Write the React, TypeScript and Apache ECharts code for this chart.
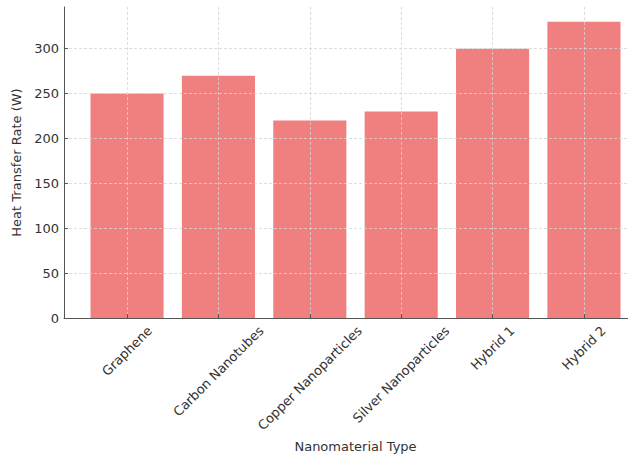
import React, { useEffect, useRef } from "react";
import * as echarts from "echarts";

const categories = [
  "Graphene",
  "Carbon Nanotubes",
  "Copper Nanoparticles",
  "Silver Nanoparticles",
  "Hybrid 1",
  "Hybrid 2",
];
const heatTransfer = [250, 270, 220, 230, 300, 330];
const yTicks = [0, 50, 100, 150, 200, 250, 300];
const xPositions = [0, 1, 2, 3, 4, 5];
const X_MIN = -0.69;
const X_MAX = 5.69;

const FONT = '"DejaVu Sans", sans-serif';
const FS = 13;
const TEXT = "#333333";
const GRID_COLOR = "#d4d4d4";

function measure(t: string): number {
  const ctx = document.createElement("canvas").getContext("2d");
  if (!ctx) return t.length * FS * 0.6;
  ctx.font = `${FS}px ${FONT}`;
  return ctx.measureText(t).width;
}

export default function App() {
  const ref = useRef<HTMLDivElement>(null);
  useEffect(() => {
    if (!ref.current) return;
    const chart = echarts.init(ref.current, null, { renderer: "svg" });
    const lh = FS * 1.17;
    const rich: Record<string, any> = {
      t: { fontFamily: FONT, fontSize: FS, color: TEXT, lineHeight: lh, height: lh },
    };
    categories.forEach((c, i) => {
      const w = 0.5 * (measure(c) + lh);
      rich["b" + i] = { height: w, lineHeight: w, width: 1 };
      rich["r" + i] = { width: w, height: lh, lineHeight: lh };
    });

    chart.setOption({
      animation: false,
      backgroundColor: "#ffffff",
      grid: { left: 64, top: 7, width: 583, height: 311, containLabel: false },
      xAxis: {
        type: "value",
        min: X_MIN,
        max: X_MAX,
        z: 10,
        name: "Nanomaterial Type",
        nameLocation: "middle",
        nameGap: 122,
        nameTextStyle: { fontFamily: FONT, fontSize: FS, color: TEXT },
        axisLine: { show: true, onZero: false, lineStyle: { color: "#555555", width: 1 } },
        axisTick: {
          show: true,
          inside: true,
          length: 4,
          customValues: xPositions,
          lineStyle: { color: "#555555" },
        },
        axisLabel: {
          customValues: [X_MIN, ...xPositions, X_MAX],
          hideOverlap: false,
          rotate: 45,
          align: "center",
          verticalAlign: "middle",
          margin: 5,
          formatter: (v: number) => {
            const i = Math.round(v);
            if (Math.abs(v - i) > 1e-6 || !categories[i]) return "";
            return `{b${i}|}\n{t|${categories[i]}}{r${i}|}`;
          },
          rich,
        },
        splitLine: {
          show: true,
          lineStyle: { color: GRID_COLOR, type: [3, 2], width: 0.8 },
        },
      },
      yAxis: {
        type: "value",
        min: 0,
        max: 346.5,
        z: 10,
        name: "Heat Transfer Rate (W)",
        nameLocation: "middle",
        nameGap: 29,
        nameTextStyle: { fontFamily: FONT, fontSize: FS, color: TEXT },
        axisLine: { show: true, onZero: false, lineStyle: { color: "#555555", width: 1 } },
        axisTick: {
          show: true,
          inside: true,
          length: 4,
          customValues: yTicks,
          lineStyle: { color: "#555555" },
        },
        axisLabel: {
          customValues: yTicks,
          showMinLabel: true,
          showMaxLabel: true,
          hideOverlap: false,
          margin: 5,
          fontFamily: FONT,
          fontSize: FS,
          color: TEXT,
        },
        splitLine: {
          show: true,
          lineStyle: { color: GRID_COLOR, type: [3, 2], width: 0.8 },
        },
      },
      series: [
        {
          type: "bar",
          barWidth: "80%",
          itemStyle: { color: "#F08080" },
          data: xPositions.map((x, i) => [x, heatTransfer[i]]),
        },
      ],
    });
    return () => chart.dispose();
  }, []);
  return (
    <div
      style={{
        position: "absolute",
        left: 0,
        top: 0,
        width: 628,
        height: 459,
        overflow: "hidden",
      }}
    >
      <div ref={ref} style={{ width: 660, height: 459 }} />
    </div>
  );
}
